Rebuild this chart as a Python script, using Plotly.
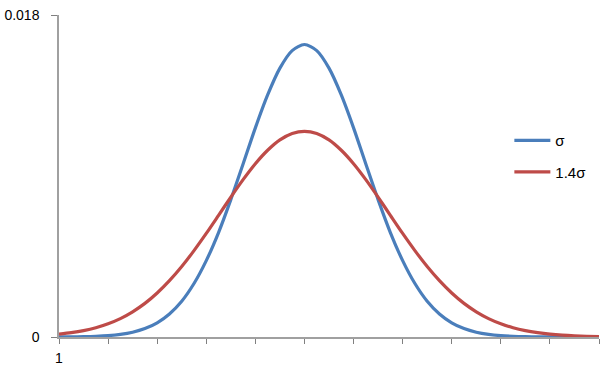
import plotly.graph_objects as go

# category positions (1..221), sampled every 5 categories
x_cat = list(range(1, 222, 5))

sigma_vals = [0.0000037, 0.0000084, 0.0000181, 0.0000379, 0.0000757, 0.000145,
              0.000267, 0.000471, 0.000795, 0.00129, 0.00200, 0.00299, 0.00427,
              0.00584, 0.00768, 0.00967, 0.01169, 0.01353, 0.01503, 0.01601,
              0.01635,
              0.01601, 0.01503, 0.01353, 0.01169, 0.00967, 0.00768, 0.00584,
              0.00427, 0.00299, 0.00200, 0.00129, 0.000795, 0.000471, 0.000267,
              0.000145, 0.0000757, 0.0000379, 0.0000181, 0.0000084, 0.0000037,
              0.0000016, 0.0000006, 0.0000002, 0.0000001]

sigma14_vals = [0.000158, 0.000241, 0.000357, 0.000520, 0.000741, 0.00103,
                0.00141, 0.00188, 0.00246, 0.00315, 0.00394, 0.00483, 0.00579,
                0.00680, 0.00782, 0.00880, 0.00969, 0.01044, 0.01102, 0.01138,
                0.01150,
                0.01138, 0.01102, 0.01044, 0.00969, 0.00880, 0.00782, 0.00680,
                0.00579, 0.00483, 0.00394, 0.00315, 0.00246, 0.00188, 0.00141,
                0.00103, 0.000741, 0.000520, 0.000357, 0.000241, 0.000158,
                0.000102, 0.0000645, 0.0000398, 0.0000241]

series_names = ["σ", "1.4σ"]
colors = ["#4A7EBB", "#BE4B48"]

x_ticks = [1, 21, 41, 61, 81, 101, 121, 141, 161, 181, 201, 221]
x_ticktext = ["1"] + [""] * 11
y_ticks = [0, 0.018]
y_ticktext = ["0", "0.018"]

fig = go.Figure()
for name, vals, col, grp in zip(series_names, [sigma_vals, sigma14_vals], colors, ["a", "b"]):
    fig.add_trace(go.Scatter(
        x=x_cat, y=vals, mode="lines", name=name, legendgroup=grp,
        line=dict(color=col, width=3.2, shape="spline", smoothing=0.8),
    ))

fig.update_layout(
    width=600, height=372,
    margin=dict(l=59, r=1, t=15, b=35),
    paper_bgcolor="white", plot_bgcolor="white",
    font=dict(family="Liberation Sans, Arial, sans-serif", size=14, color="black"),
    showlegend=True,
    legend=dict(
        x=0.834, y=0.661, xanchor="left", yanchor="top",
        font=dict(size=15, color="black"),
        tracegroupgap=9, bgcolor="rgba(0,0,0,0)", itemwidth=36,
    ),
    xaxis=dict(
        range=[1, 221], tickvals=x_ticks, ticktext=x_ticktext,
        showgrid=False, zeroline=False, showline=True, linecolor="#A0A0A0",
        linewidth=1.5, ticks="outside", ticklen=5, tickcolor="#808080",
        tickfont=dict(size=14), fixedrange=True, ticklabelstandoff=2,
    ),
    yaxis=dict(
        range=[0, 0.018], tickvals=y_ticks, ticktext=y_ticktext,
        showgrid=False, zeroline=False, showline=True, linecolor="#A0A0A0",
        linewidth=1.5, ticks="outside", ticklen=6, tickcolor="#808080",
        tickfont=dict(size=14), fixedrange=True, ticklabelstandoff=9,
    ),
)

fig.write_html("out.html")
